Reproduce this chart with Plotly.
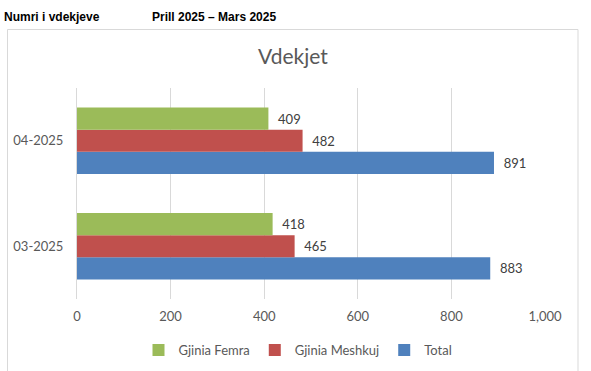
import plotly.graph_objects as go

categories = ["03-2025", "04-2025"]
femra = [418, 409]
meshkuj = [465, 482]
total = [883, 891]
series_names = ["Gjinia Femra", "Gjinia Meshkuj", "Total"]
colors = ["#9BBB59", "#C0504D", "#4F81BD"]
x_ticks = [0, 200, 400, 600, 800, 1000]

W, H = 591, 371
L, R, T, B = 77, 46, 88, 72
pw, ph = W - L - R, H - T - B
FONT = "Lato"

def px(x):
    return (x - L) / pw

def py(y):
    return (H - B - y) / ph

fig = go.Figure()
for name, vals, col in [(series_names[2], total, colors[2]),
                        (series_names[1], meshkuj, colors[1]),
                        (series_names[0], femra, colors[0])]:
    fig.add_trace(go.Bar(
        y=categories, x=vals, name=name, orientation="h",
        marker=dict(color=col, line=dict(width=0)),
        text=vals, texttemplate="\u00a0\u00a0%{x}", textposition="outside",
        cliponaxis=False,
        textfont=dict(family=FONT, size=13, color="#404040"),
    ))

fig.update_layout(
    width=W, height=H,
    margin=dict(l=L, r=R, t=T, b=B, autoexpand=False),
    paper_bgcolor="white", plot_bgcolor="white",
    barmode="group", bargap=0.37, bargroupgap=0,
    showlegend=True,
    legend=dict(orientation="h", traceorder="reversed",
                xref="container", yref="container",
                x=298 / W, xanchor="center", y=1 - 350 / H, yanchor="middle",
                font=dict(family=FONT, size=13, color="#595959"),
                itemwidth=30, itemsizing="constant"),
    xaxis=dict(range=[0, 1000], tickvals=x_ticks, tickformat=",",
               automargin=False,
               showgrid=True, gridcolor="#D9D9D9", gridwidth=1,
               zeroline=False, showline=False, ticks="",
               ticklabelstandoff=8,
               tickfont=dict(family=FONT, size=13, color="#595959")),
    yaxis=dict(categoryorder="array", categoryarray=categories,
               automargin=False,
               showgrid=False, showline=True, linecolor="#D9D9D9", linewidth=1,
               ticks="", ticklabelstandoff=10,
               tickfont=dict(family=FONT, size=13, color="#595959")),
    shapes=[
        dict(type="rect", xref="paper", yref="paper",
             x0=px(7.5), x1=px(578), y0=py(380), y1=py(29.5),
             line=dict(color="#D9D9D9", width=1), fillcolor="rgba(0,0,0,0)",
             layer="below"),
    ],
    annotations=[
        dict(text="Vdekjet", xref="paper", yref="paper", x=px(293), y=py(55),
             xanchor="center", yanchor="middle", showarrow=False,
             font=dict(family=FONT, size=21, color="#595959")),
        dict(text="<b>Numri i vdekjeve</b>", xref="paper", yref="paper",
             x=px(2), y=py(17), xanchor="left", yanchor="middle", showarrow=False,
             font=dict(family="Liberation Sans", size=12, color="#000000")),
        dict(text="<b>Prill 2025 – Mars 2025</b>", xref="paper", yref="paper",
             x=px(150), y=py(17), xanchor="left", yanchor="middle", showarrow=False,
             font=dict(family="Liberation Sans", size=12, color="#000000")),
    ],
)

fig.write_html("out.html", config={"displayModeBar": False},
               post_script="document.body.style.margin='0px';")
